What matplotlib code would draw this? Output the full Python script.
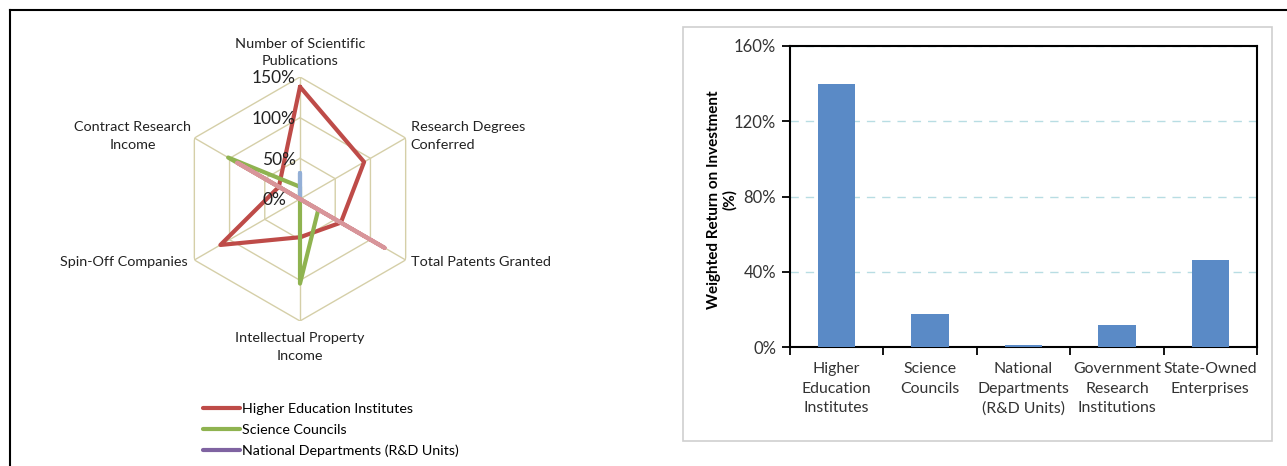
import numpy as np
import matplotlib
matplotlib.use("Agg")
import matplotlib.pyplot as plt
from matplotlib.lines import Line2D
from matplotlib.patches import Rectangle

plt.rcParams['font.family'] = ['Lato', 'DejaVu Sans']

# radar data (fraction of benchmark)
axes_names = ['Number of Scientific\nPublications', 'Research Degrees\nConferred',
              'Total Patents Granted', 'Intellectual Property\nIncome',
              'Spin-Off Companies', 'Contract Research\nIncome']
series_names = ['Higher Education Institutes', 'Science Councils',
                'National Departments (R&D Units)', 'Government Research Institutions',
                'State-Owned Enterprises']
hei = [1.38, 0.91, 0.58, 0.47, 1.13, 0.30]
sc = [0.15, 0.0, 0.26, 1.04, 0.0, 1.02]
nd = [0.0, 0.0, 0.0, 0.0, 0.0, 0.0]
gri = [0.32, 0.0, 0.0, 0.0, 0.0, 0.0]
soe = [0.0, 0.0, 1.20, 0.0, 0.0, 0.89]
series_colors = ['#be4b48', '#8fb350', '#7f63a1', '#93afd6', '#d8959a']

# bar data
bar_cats = ['Higher\nEducation\nInstitutes', 'Science\nCouncils', 'National\nDepartments\n(R&D Units)',
            'Government\nResearch\nInstitutions', 'State-Owned\nEnterprises']
bar_vals = [140, 17.5, 1.2, 11.5, 46.5]

fig = plt.figure(figsize=(12.87, 4.66), dpi=100)
W, H = 1287, 466

# ---- radar ----
rmax = 1.5
ax = fig.add_axes([178 / W, 1 - 321 / H, 244 / W, 244 / H], projection='polar')
ax.set_theta_zero_location('N')
ax.set_theta_direction(-1)
ang = np.deg2rad(np.arange(6) * 60)
ang_c = np.append(ang, ang[0])
grid_c = '#d5cfa8'
for r in [0.5, 1.0, 1.5]:
    ax.plot(ang_c, [r] * 7, color=grid_c, lw=1.0, zorder=1)
for a in ang:
    ax.plot([a, a], [0, rmax], color=grid_c, lw=1.0, zorder=1)
lines = []
for vals, c, name in zip([hei, sc, nd, gri, soe], series_colors, series_names):
    v = np.append(vals, vals[0])
    ln, = ax.plot(ang_c, v, color=c, lw=3.0, solid_capstyle='round', label=name, zorder=3)
    lines.append(ln)
ax.set_ylim(0, rmax)
ax.set_xticks([])
ax.set_yticks([])
ax.grid(False)
ax.spines['polar'].set_visible(False)
ax.patch.set_alpha(0)
for r, t in zip([0, 0.5, 1.0, 1.5], ['0%', '50%', '100%', '150%']):
    ax.annotate(t, (0, r), xytext=(-3 if r else -10, -1), textcoords='offset points',
                ha='right', va='center', fontsize=12.5, color='#222222')
lab_r = 1.55
aligns = [('center', 'bottom'), ('left', 'center'), ('left', 'center'),
          ('center', 'top'), ('right', 'center'), ('center', 'center')]
offs = [(0, 7), (1, 0), (1, 0), (0, -8), (-2, 0), (-42, 0)]
for a, name, (ha, va), o in zip(ang, axes_names, aligns, offs):
    ax.annotate(name, (a, lab_r if ha != 'center' or va == 'center' else rmax), xytext=o,
                textcoords='offset points', ha=ha, va=va, fontsize=10.4, color='#222222',
                linespacing=1.55, annotation_clip=False)

fig.legend(handles=lines[:3], loc='upper left', bbox_to_anchor=(203 / W, 1 - 403 / H),
           frameon=False, fontsize=10.3, handlelength=2.6, handletextpad=0.1,
           labelspacing=0.62, borderpad=0, borderaxespad=0)

# ---- bar chart ----
bx = fig.add_axes([790 / W, 1 - 347 / H, 467 / W, 301 / H])
x = np.arange(len(bar_cats))
bx.bar(x, bar_vals, width=0.4, color='#5a8ac6', zorder=3)
bx.set_xlim(-0.5, len(bar_cats) - 0.5)
bx.set_ylim(0, 160)
bx.set_yticks([0, 40, 80, 120, 160])
bx.set_yticklabels(['0%', '40%', '80%', '120%', '160%'], fontsize=12, color='#333333')
bx.set_xticks(np.arange(len(bar_cats) + 1) - 0.5, minor=False)
bx.set_xticklabels([])
bx.set_xticks(x, minor=True)
bx.set_xticklabels(bar_cats, minor=True, fontsize=11.4, linespacing=1.5, color='#333333')
bx.tick_params(axis='x', which='minor', length=0, pad=11)
bx.tick_params(axis='x', which='major', length=6, width=1.3, direction='out')
bx.tick_params(axis='y', length=6, width=1.3, direction='out', pad=4)
for s in bx.spines.values():
    s.set_linewidth(1.5)
bx.yaxis.grid(True, linestyle=(0, (6, 5)), color='#b8dde3', lw=1.0, zorder=0)
bx.set_axisbelow(True)
bx.set_ylabel('Weighted Return on Investment\n(%)', fontsize=11, fontweight='bold',
              linespacing=1.15)
bx.yaxis.set_label_coords(-0.113, 0.49)

# panel frames
fig.patches.append(Rectangle((683 / W, 1 - 441 / H), 589 / W, 414 / H, transform=fig.transFigure,
                             fill=False, edgecolor='#cfcfcf', lw=1.2))
fig.add_artist(Line2D([9.5 / W, 1], [1 - 9.5 / H, 1 - 9.5 / H], color='black', lw=1.5))
fig.add_artist(Line2D([9.5 / W, 9.5 / W], [0, 1 - 9.5 / H], color='black', lw=1.5))

fig.savefig('out.png', dpi=100)
